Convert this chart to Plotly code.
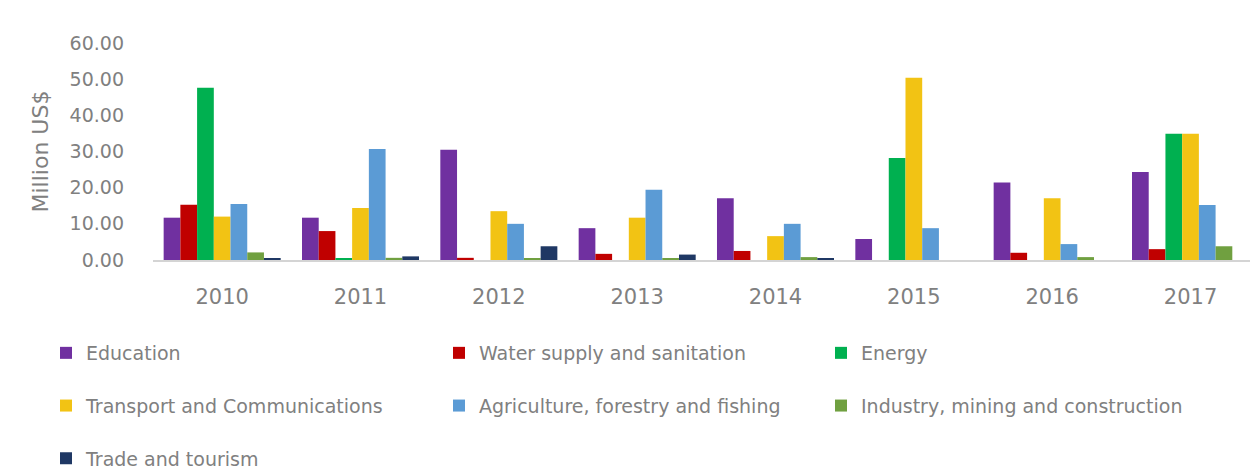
import plotly.graph_objects as go

years = ["2010", "2011", "2012", "2013", "2014", "2015", "2016", "2017"]

education = [11.7, 11.7, 30.5, 8.8, 17.1, 5.8, 21.4, 24.3]
water = [15.3, 8.0, 0.6, 1.7, 2.5, 0.0, 2.0, 3.0]
energy = [47.6, 0.3, 0.0, 0.0, 0.0, 28.2, 0.0, 34.9]
transport = [12.0, 14.4, 13.5, 11.7, 6.6, 50.4, 17.1, 34.9]
agriculture = [15.5, 30.7, 10.0, 19.4, 10.0, 8.8, 4.4, 15.2]
industry = [2.1, 0.6, 0.3, 0.3, 0.8, 0.0, 0.8, 3.8]
trade = [0.3, 1.0, 3.8, 1.5, 0.3, 0.0, 0.0, 0.0]

y_ticks = [0, 10, 20, 30, 40, 50, 60]
y_title = "Million US$"

# name, values, colour, legend column
series = [
    ("Education", education, "#7030A0", "legend"),
    ("Water supply and sanitation", water, "#C00000", "legend2"),
    ("Energy", energy, "#00B050", "legend3"),
    ("Transport and Communications", transport, "#F2C314", "legend"),
    ("Agriculture, forestry and fishing", agriculture, "#5B9BD5", "legend2"),
    ("Industry, mining and construction", industry, "#70A040", "legend3"),
    ("Trade and tourism", trade, "#1F3864", "legend"),
]

TEXT = "#808080"
FONT = "DejaVu Sans"

fig = go.Figure()
for name, vals, color, leg in series:
    fig.add_trace(go.Bar(
        x=years, y=vals, name=name, marker_color=color,
        marker_line_width=0, legend=leg, legendgroup=name,
    ))

W, H = 1250, 470
legend_common = dict(
    orientation="v", xref="container", yref="container",
    xanchor="left", yanchor="top", tracegroupgap=25,
    font=dict(family=FONT, size=19, color=TEXT),
    bgcolor="rgba(0,0,0,0)", itemclick=False,
)
legend_top = 1 - 334 / H

fig.update_layout(
    width=W, height=H,
    margin=dict(l=153, r=0, t=43, b=210, autoexpand=False),
    paper_bgcolor="white", plot_bgcolor="white",
    barmode="group", bargap=0.154, bargroupgap=0,
    font=dict(family=FONT, color=TEXT),
    xaxis=dict(
        type="category", range=[-0.5, 7.43],
        showline=True, linecolor="#d4d4d4", linewidth=2,
        showgrid=False, ticks="", ticklabelstandoff=17,
        tickfont=dict(family=FONT, size=21, color=TEXT),
    ),
    yaxis=dict(
        range=[0, 60], tickvals=y_ticks, tickformat=".2f",
        showgrid=False, zeroline=False, showline=False, ticks="",
        ticklabelstandoff=28,
        tickfont=dict(family=FONT, size=19, color=TEXT),
    ),
    annotations=[dict(
        text=y_title, textangle=-90, showarrow=False,
        xref="paper", yref="paper", x=-113 / 1097, y=0.5,
        xanchor="center", yanchor="middle",
        font=dict(family=FONT, size=22, color=TEXT),
    )],
    legend=dict(legend_common, x=46 / W, y=legend_top),
    legend2=dict(legend_common, x=439 / W, y=legend_top),
    legend3=dict(legend_common, x=821 / W, y=legend_top),
)

fig.write_html("out.html")
